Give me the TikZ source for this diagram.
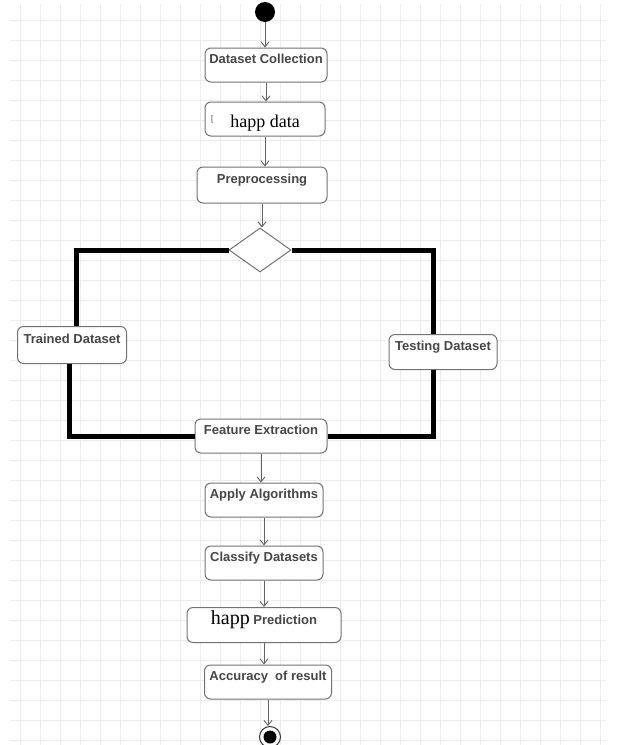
\documentclass[tikz,border=0pt]{standalone}
\usepackage{fontspec}
\setmainfont{Liberation Sans}
\newfontfamily\happfont{Liberation Serif}
\usetikzlibrary{positioning}
\usetikzlibrary{arrows.meta}
\usetikzlibrary{shapes.geometric}
\definecolor{boxline}{RGB}{115,115,115}
\definecolor{txtgray}{RGB}{70,70,70}
\definecolor{arrowgray}{RGB}{100,100,100}
\definecolor{gridgray}{RGB}{236,236,236}

\tikzset{
	activity/.style={draw=boxline, fill=white, rounded corners=6pt, line width=1pt,
		font=\fontsize{13}{15}\selectfont\bfseries, text=txtgray,
		inner xsep=3pt, inner ysep=4pt, text height=11pt, text depth=15pt, minimum height=34pt},
	happbox/.style={font=\happfont\fontsize{18}{20}\selectfont, text=black,
		inner ysep=3pt, text height=21pt, text depth=5pt},
	decision/.style={diamond, draw=boxline, fill=white, line width=1pt,
		minimum width=62pt, minimum height=44pt, inner sep=0pt},
	startdot/.style={circle, fill=black, minimum size=20pt, inner sep=0pt},
	enddot/.style={circle, draw=black!80, fill=white, line width=1pt, minimum size=21pt, inner sep=0pt,
		path picture={\fill[black] (path picture bounding box.center) circle (6.5pt);}},
	flow/.style={draw=arrowgray, line width=0.9pt, -{Straight Barb[length=5pt,width=8pt]}},
	branch/.style={draw=black, line width=5pt}
}

\begin{document}
\begin{tikzpicture}[x=1pt,y=-1pt]
	\useasboundingbox (0,0) rectangle (618,745);
	\clip (0,0) rectangle (618,745);
	\fill [white] (0,0) rectangle (618,745);
	\draw [step=20pt, gridgray, line width=0.6pt] (10,4) grid (606,745);

	\node [startdot] (start) at (265,12) {};
	\node [activity, minimum width=122pt] (collect) at (266,65) {Dataset Collection};
	\node [activity, happbox, minimum width=120pt,
		label={[font=\footnotesize, text=txtgray, inner sep=0pt, label distance=-9pt]west:{[}}] (happdata) at (265,119) {happ data};
	\node [activity, minimum width=130pt, minimum height=36pt] (prep) at (262,185) {Preprocessing};
	\node [decision] (split) at (260,250) {};

	\node [activity, minimum width=109pt, minimum height=37pt] (trained) at (72,345) {Trained Dataset};
	\node [activity, minimum width=108pt, minimum height=35pt] (testing) at (443,352) {Testing Dataset};
	\node [activity, minimum width=132pt, text depth=14pt] (extract) at (261,436) {Feature Extraction};

	\node [activity, minimum width=118pt] (apply) at (264,500) {Apply Algorithms};
	\node [activity, minimum width=118pt] (classify) at (264,563) {Classify Datasets};
	\node [activity, minimum width=154pt, text height=13pt, text depth=14pt] (predict) at (264,625)
		{{\color{black}\happfont\mdseries\fontsize{20}{22}\selectfont happ} Prediction};
	\node [activity, minimum width=127pt] (accuracy) at (268,682) {Accuracy\ \ of result};
	\node [enddot] (stop) at (270,737) {};

	\draw [flow] (start) -- (start |- collect.north);
	\draw [flow] (collect) -- (collect |- happdata.north);
	\draw [flow] (happdata) -- (happdata |- prep.north);
	\draw [flow] (prep) -- (prep |- split.north);

	\draw [branch] (split.west) -| ([xshift=4pt]trained.north);
	\draw [branch] (split.east) -| ([xshift=-10pt]testing.north);
	\draw [branch] ([xshift=-3pt]trained.south) |- (extract.west);
	\draw [branch] ([xshift=-10pt]testing.south) |- (extract.east);

	\draw [flow] (extract) -- (extract |- apply.north);
	\draw [flow] (apply) -- (apply |- classify.north);
	\draw [flow] (classify) -- (classify |- predict.north);
	\draw [flow] (predict) -- (predict |- accuracy.north);
	\draw [flow] (accuracy) -- (accuracy |- stop.north);
\end{tikzpicture}
\end{document}
